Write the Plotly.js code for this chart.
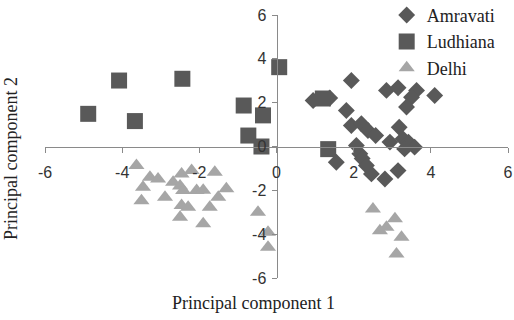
<!DOCTYPE html>
<html><head><meta charset="utf-8">
<script src="https://cdn.plot.ly/plotly-3.0.1.min.js"></script>
<style>html,body{margin:0;padding:0;background:#fff}#chart{width:514px;height:320px}</style>
</head><body><div id="chart"></div>
<script>
const seriesNames = ["Amravati", "Ludhiana", "Delhi"];
const amravatiX = [1.94, 0.95, 1.38, 2.85, 3.15, 3.63, 3.50, 3.37, 4.10, 1.81, 1.94, 2.20, 2.37, 2.57, 2.94, 3.18, 3.28, 3.42, 3.58, 3.32, 2.07, 2.16, 2.22, 2.33, 2.46, 2.81, 1.55, 3.15];
const amravatiY = [3.01, 2.10, 2.21, 2.56, 2.68, 2.56, 2.25, 1.80, 2.33, 1.64, 0.96, 1.04, 0.73, 0.50, 0.20, 0.88, 0.35, 0.20, -0.03, -0.11, 0.05, -0.33, -0.55, -0.87, -1.25, -1.48, -0.72, -1.10];
const ludhianaX = [-4.88, -4.08, -3.67, -2.44, -0.85, -0.35, -0.73, -0.39, 0.07, 1.34, 1.20];
const ludhianaY = [1.49, 3.01, 1.16, 3.09, 1.87, 1.42, 0.50, 0.00, 3.62, -0.12, 2.19];
const delhiX = [-3.63, -3.28, -3.07, -3.46, -3.50, -2.89, -2.68, -2.46, -2.20, -2.50, -2.42, -2.07, -1.90, -2.46, -2.29, -2.50, -1.90, -1.60, -1.51, -1.73, -1.30, -0.48, -0.22, -0.22, 2.50, 2.68, 2.85, 3.07, 3.24, 3.11];
const delhiY = [-0.87, -1.40, -1.48, -1.86, -2.47, -2.31, -1.63, -1.25, -1.10, -1.80, -2.01, -2.01, -2.00, -2.69, -2.77, -3.23, -3.53, -1.17, -2.31, -2.77, -1.93, -3.00, -3.91, -4.60, -2.85, -3.84, -3.68, -3.30, -4.14, -4.90];
const tickVals = [-6, -4, -2, 0, 2, 4, 6];
const tickText = ["-6", "-4", "-2", "0", "2", "4", "6"];
const xTitle = "Principal component 1";
const yTitle = "Principal component 2";

const dark = "#595959", light = "#a6a6a6";
const traces = [
  {x: amravatiX, y: amravatiY, name: seriesNames[0], legendgroup: "a", type: "scatter", mode: "markers",
   marker: {symbol: "diamond", size: 13, color: dark, line: {width: 0}}},
  {x: ludhianaX, y: ludhianaY, name: seriesNames[1], legendgroup: "b", type: "scatter", mode: "markers",
   marker: {symbol: "square", size: 16, color: dark, line: {width: 0}}},
  {x: delhiX, y: delhiY, name: seriesNames[2], legendgroup: "c", type: "scatter", mode: "markers",
   marker: {symbol: "triangle-up", size: 14, color: light, line: {width: 0}}}
];
const axisCommon = {
  range: [-6, 6], tickvals: tickVals, ticktext: tickText, showgrid: false, zeroline: false,
  showline: true, linecolor: "#8a8a8a", linewidth: 1, ticks: "outside", ticklen: 5, tickcolor: "#8a8a8a",
  tickfont: {family: "Liberation Sans, Arial, sans-serif", size: 16, color: "#333"},
  anchor: "free", position: 0.5, fixedrange: true
};
const layout = {
  width: 514, height: 320,
  margin: {l: 45, r: 6, t: 15, b: 42, autoexpand: false},
  paper_bgcolor: "#fff", plot_bgcolor: "#fff",
  xaxis: Object.assign({}, axisCommon, {ticklabelstandoff: 6}),
  yaxis: Object.assign({}, axisCommon, {ticklabelstandoff: 2}),
  showlegend: true,
  legend: {x: 0.738, y: 1.069, xanchor: "left", yanchor: "top", bgcolor: "rgba(0,0,0,0)",
    font: {family: "Liberation Serif, Times New Roman, serif", size: 18, color: "#222"},
    traceorder: "grouped", tracegroupgap: 0, itemwidth: 30},
  annotations: [
    {text: xTitle, xref: "paper", yref: "paper", x: 0.451, y: -0.095, xanchor: "center", yanchor: "middle",
     showarrow: false, font: {family: "Liberation Serif, Times New Roman, serif", size: 18, color: "#222"}},
    {text: yTitle, xref: "paper", yref: "paper", x: -0.072, y: 0.455, xanchor: "center", yanchor: "middle",
     textangle: -90, showarrow: false, font: {family: "Liberation Serif, Times New Roman, serif", size: 18, color: "#222"}}
  ]
};
Plotly.newPlot("chart", traces, layout, {displayModeBar: false, staticPlot: true});
</script></body></html>
